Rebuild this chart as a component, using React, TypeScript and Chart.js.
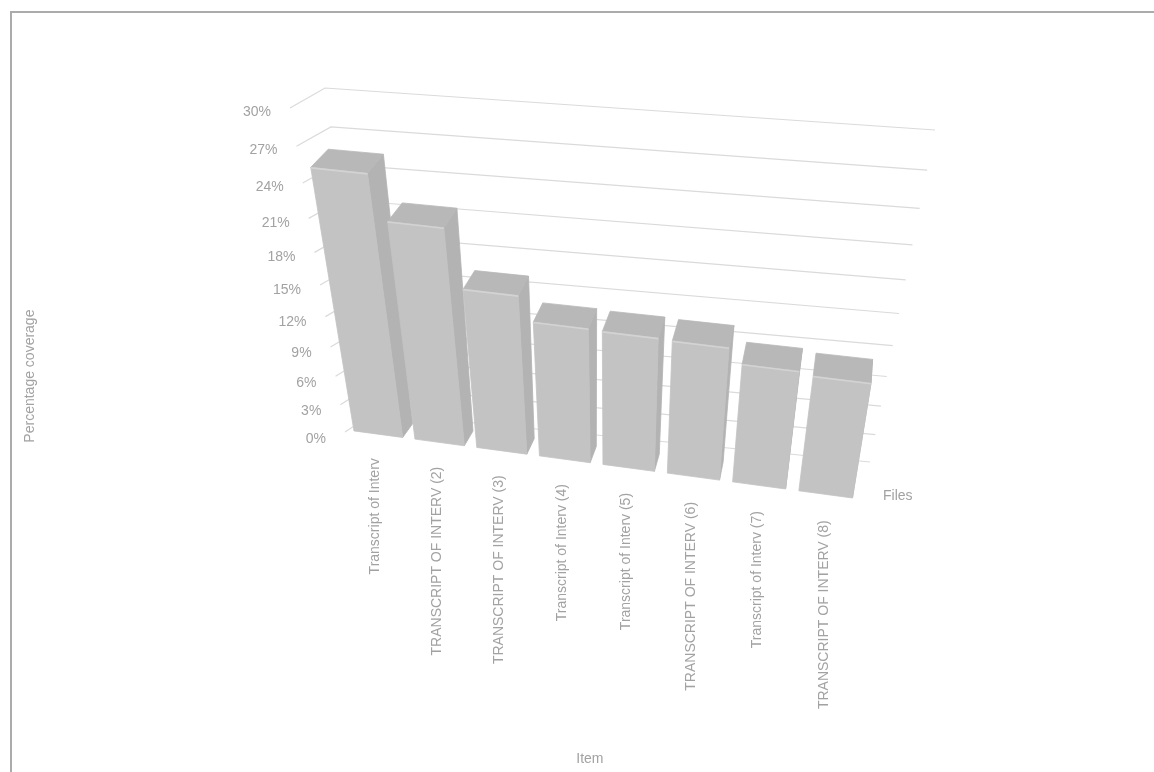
import { useEffect, useRef } from 'react';
import { Chart, registerables } from 'chart.js';

Chart.register(...registerables);

// ---------- data ----------
const categories: string[] = [
  'Transcript of Interv',
  'TRANSCRIPT OF INTERV (2)',
  'TRANSCRIPT OF INTERV (3)',
  'Transcript of Interv (4)',
  'Transcript of Interv (5)',
  'TRANSCRIPT OF INTERV (6)',
  'Transcript of Interv (7)',
  'TRANSCRIPT OF INTERV (8)',
];
const coverage: number[] = [25.2, 21.3, 16.0, 13.7, 13.6, 13.5, 12.1, 11.8];
const yMin = 0;
const yMax = 30;
const yStep = 3;
const seriesName = 'Files';
const yTitle = 'Percentage coverage';
const xTitle = 'Item';

// ---------- view (3D box) geometry & style ----------
type Pt = [number, number];
type Quad = { lb: Pt; rb: Pt; rt: Pt; lt: Pt };
const WALL_FRONT: Quad = { lb: [345, 432], rb: [858, 503], rt: [912, 172], lt: [290, 108] };
const WALL_BACK: Quad = { lb: [374, 413], rb: [870, 462], rt: [935, 130], lt: [325, 88] };
const BAR_FRONT_W = 0.1;
const BAR_DEPTH: Quad = { lb: [11, -13], rb: [1, -20], rt: [2, -30], lt: [19, -19] };

const TEXT = '#a2a2a2';
const GRID = '#dadada';
const FACE_FRONT = '#c3c3c3';
const FACE_TOP = '#b8b8b8';
const FACE_SIDE = '#b3b3b3';
const EDGE_HI = '#d3d3d3';
const FONT = "'Liberation Sans', Arial, sans-serif";

function quadMap(q: Quad) {
  const [x0, y0] = q.lb, [x1, y1] = q.rb, [x2, y2] = q.rt, [x3, y3] = q.lt;
  const dx1 = x1 - x2, dx2 = x3 - x2, dx3 = x0 - x1 + x2 - x3;
  const dy1 = y1 - y2, dy2 = y3 - y2, dy3 = y0 - y1 + y2 - y3;
  const den = dx1 * dy2 - dy1 * dx2;
  const g = (dx3 * dy2 - dy3 * dx2) / den;
  const h = (dx1 * dy3 - dy1 * dx3) / den;
  const a = x1 - x0 + g * x1, b = x3 - x0 + h * x3, c = x0;
  const d = y1 - y0 + g * y1, e = y3 - y0 + h * y3, f = y0;
  return (u: number, v: number): Pt => {
    const w = g * u + h * v + 1;
    return [(a * u + b * v + c) / w, (d * u + e * v + f) / w];
  };
}

const mapFront = quadMap(WALL_FRONT);
const mapBack = quadMap(WALL_BACK);
const lerp = (p: Pt, q: Pt, t: number): Pt => [p[0] + (q[0] - p[0]) * t, p[1] + (q[1] - p[1]) * t];
const wall = (u: number, v: number, w: number): Pt => lerp(mapFront(u, v), mapBack(u, v), w);
const barFront = (u: number, v: number): Pt => wall(u, v, BAR_FRONT_W);
const depthAt = (u: number, v: number): Pt => {
  const bot = lerp(BAR_DEPTH.lb, BAR_DEPTH.rb, u);
  const top = lerp(BAR_DEPTH.lt, BAR_DEPTH.rt, u);
  return lerp(bot, top, v);
};
const barBack = (u: number, v: number): Pt => {
  const p = barFront(u, v);
  const d = depthAt(u, v);
  return [p[0] + d[0], p[1] + d[1]];
};

function poly(ctx: CanvasRenderingContext2D, pts: Pt[], fill: string) {
  ctx.beginPath();
  ctx.moveTo(pts[0][0], pts[0][1]);
  for (let i = 1; i < pts.length; i++) ctx.lineTo(pts[i][0], pts[i][1]);
  ctx.closePath();
  ctx.fillStyle = fill;
  ctx.fill();
  ctx.strokeStyle = fill;
  ctx.lineWidth = 0.8;
  ctx.stroke();
}

const threeD = {
  id: 'threeD',
  beforeDatasetsDraw(chart: any) {
    const ctx: CanvasRenderingContext2D = chart.ctx;
    const area = chart.chartArea;
    const xs = chart.scales.x;
    const ys = chart.scales.y;
    const U = (px: number) => (px - area.left) / (area.right - area.left);
    const V = (py: number) => (area.bottom - py) / (area.bottom - area.top);

    ctx.save();
    // grid: left wall segments + back wall lines
    let tickVals: number[] = (ys.ticks || []).map((t: any) => t.value);
    if (!tickVals.length) {
      tickVals = [];
      for (let t = yMin; t <= yMax + 1e-9; t += yStep) tickVals.push(t);
    }
    ctx.strokeStyle = GRID;
    ctx.lineWidth = 1.2;
    tickVals.forEach((val) => {
      const v = V(ys.getPixelForValue(val));
      const a = wall(0, v, 0);
      const b = wall(0, v, 1);
      const c = wall(1, v, 1);
      ctx.beginPath();
      ctx.moveTo(a[0], a[1]);
      ctx.lineTo(b[0], b[1]);
      ctx.lineTo(c[0], c[1]);
      ctx.stroke();
    });

    // y tick labels
    ctx.fillStyle = TEXT;
    ctx.font = `14px ${FONT}`;
    ctx.textAlign = 'right';
    ctx.textBaseline = 'middle';
    tickVals.forEach((val) => {
      const v = V(ys.getPixelForValue(val));
      const a = wall(0, v, 0);
      ctx.fillText(`${Math.round(val)}%`, a[0] - 19, a[1] + 4 + 3 * (1 - v));
    });

    // bars
    const meta = chart.getDatasetMeta(0);
    meta.data.forEach((el: any) => {
      const p = el.getProps(['x', 'y', 'base', 'width'], true);
      const u0 = U(p.x - p.width / 2);
      const u1 = U(p.x + p.width / 2);
      const v0 = V(p.base);
      const v1 = V(p.y);
      const A = barFront(u0, v0), B = barFront(u1, v0), C = barFront(u1, v1), D = barFront(u0, v1);
      const Bb = barBack(u1, v0), Cb = barBack(u1, v1), Db = barBack(u0, v1);
      poly(ctx, [B, C, Cb, Bb], FACE_SIDE);
      poly(ctx, [D, C, Cb, Db], FACE_TOP);
      poly(ctx, [A, B, C, D], FACE_FRONT);
      ctx.strokeStyle = EDGE_HI;
      ctx.lineWidth = 1.6;
      ctx.beginPath();
      ctx.moveTo(D[0], D[1] + 0.5);
      ctx.lineTo(C[0], C[1] + 0.5);
      ctx.stroke();
    });

    // category labels (rotated)
    ctx.fillStyle = TEXT;
    ctx.font = `14px ${FONT}`;
    ctx.textAlign = 'right';
    ctx.textBaseline = 'middle';
    const labels: string[] = chart.data.labels;
    labels.forEach((lab, i) => {
      const u = U(xs.getPixelForValue(i));
      const a = wall(u, 0, 0);
      ctx.save();
      ctx.translate(a[0], a[1] + 22);
      ctx.rotate(-Math.PI / 2);
      ctx.fillText(lab, 0, 0);
      ctx.restore();
    });

    // series (depth) axis label
    const rb = wall(1, 0, 0);
    ctx.textAlign = 'left';
    ctx.fillText(chart.data.datasets[0].label, rb[0] + 25, rb[1] - 7);
    ctx.restore();
    return false;
  },
};

export default function App() {
  const ref = useRef<HTMLCanvasElement>(null);
  useEffect(() => {
    if (!ref.current) return;
    const chart = new Chart(ref.current, {
      type: 'bar',
      data: {
        labels: categories,
        datasets: [
          {
            label: seriesName,
            data: coverage,
            backgroundColor: FACE_FRONT,
            barPercentage: 0.8,
            categoryPercentage: 1,
          },
        ],
      },
      options: {
        responsive: false,
        animation: false,
        layout: { padding: { left: 18, right: 25, top: 13, bottom: 0 } },
        plugins: { legend: { display: false }, tooltip: { enabled: false } },
        scales: {
          x: {
            offset: true,
            grid: { display: false },
            border: { display: false },
            ticks: { display: false },
            title: { display: true, text: xTitle, color: TEXT, font: { size: 14, family: FONT }, padding: 4 },
          },
          y: {
            min: yMin,
            max: yMax,
            grid: { display: false },
            border: { display: false },
            ticks: { display: false, stepSize: yStep },
            title: { display: true, text: yTitle, color: TEXT, font: { size: 14, family: FONT }, padding: 4 },
          },
        },
      },
      plugins: [threeD],
    } as any);
    return () => chart.destroy();
  }, []);
  return (
    <div style={{ position: 'absolute', left: 0, top: 0, width: 1154, height: 772, background: '#ffffff' }}>
      <div
        style={{
          position: 'absolute',
          left: 10,
          top: 11,
          right: 0,
          bottom: 0,
          borderLeft: '2px solid #ababab',
          borderTop: '2px solid #ababab',
        }}
      />
      <canvas ref={ref} width={1154} height={772} style={{ position: 'absolute', left: 0, top: 0 }} />
    </div>
  );
}
